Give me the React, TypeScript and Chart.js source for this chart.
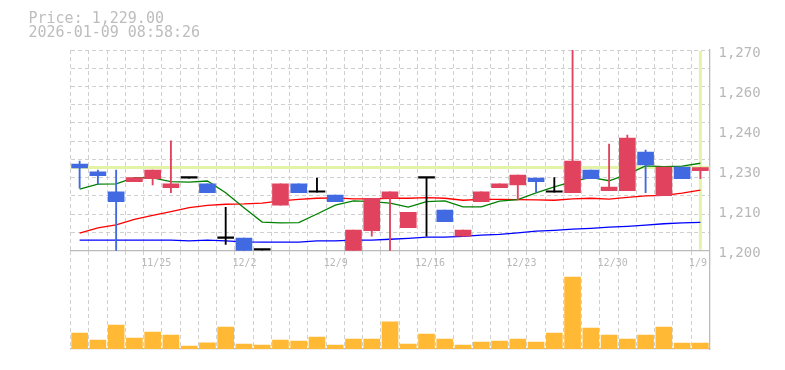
import React, { useEffect, useRef } from "react";
import { Chart, registerables } from "chart.js";
Chart.register(...registerables);

const dates = ["11/18","11/19","11/20","11/21","11/25","11/26","11/27","11/28","12/1","12/2","12/3","12/4","12/5","12/8","12/9","12/10","12/11","12/12","12/15","12/16","12/17","12/18","12/19","12/22","12/23","12/24","12/25","12/26","12/29","12/30","1/5","1/6","1/7","1/8","1/9"];
const shownDates = ["11/25","12/2","12/9","12/16","12/23","12/30","1/9"];

const opens  = [1230.2,1227.5,1220.5,1224.1,1225.1,1222.0,1225.3,1223.3,1204.3,1204.4,1200.2,1215.9,1223.3,1220.4,1219.4,1199.8,1207.0,1218.3,1208.0,1225.3,1214.2,1205.1,1217.1,1222.0,1222.9,1225.3,1220.4,1220.2,1228.1,1220.9,1220.9,1234.4,1219.2,1229.2,1227.9];
const highs  = [1231.3,1228.1,1228.1,1225.5,1228.1,1238.3,1225.3,1223.3,1215.1,1204.4,1200.2,1223.3,1223.3,1225.3,1219.4,1207.2,1218.3,1220.5,1213.4,1225.3,1214.2,1207.2,1220.5,1223.3,1226.4,1225.3,1225.5,1275.0,1228.1,1237.2,1240.3,1235.1,1229.2,1229.2,1229.0];
const lows   = [1221.8,1223.2,1199.0,1224.1,1222.9,1220.2,1225.3,1220.2,1202.2,1200.0,1200.2,1215.9,1220.2,1220.4,1217.1,1199.8,1205.1,1199.0,1208.0,1205.1,1210.1,1205.1,1217.1,1222.0,1217.7,1220.4,1220.4,1220.2,1225.1,1220.9,1220.9,1220.2,1219.2,1225.1,1225.1];
const closes = [1228.9,1226.2,1217.1,1225.5,1228.1,1223.3,1225.3,1220.2,1204.3,1200.0,1200.2,1223.3,1220.2,1220.4,1217.1,1207.2,1218.3,1220.5,1213.4,1225.3,1210.1,1207.2,1220.5,1223.3,1226.4,1224.1,1220.4,1231.3,1225.1,1222.2,1239.3,1229.9,1229.2,1225.1,1229.0];

const ma5  = [1221.5,1223.2,1223.3,1225.5,1225.4,1224.1,1223.9,1224.3,1220.2,1215.0,1210.0,1209.7,1209.8,1212.8,1215.9,1217.4,1217.1,1216.6,1215.2,1217.1,1217.4,1215.3,1215.3,1217.3,1217.8,1220.2,1222.3,1224.1,1225.6,1224.4,1226.6,1229.6,1229.3,1229.5,1230.5];
const ma25 = [1206.1,1208.0,1209.0,1210.9,1212.3,1213.6,1215.0,1215.8,1216.2,1216.3,1216.6,1217.4,1217.9,1218.3,1218.4,1218.1,1218.1,1218.3,1218.3,1218.5,1218.3,1217.6,1217.9,1217.9,1217.8,1217.7,1217.6,1218.1,1218.3,1218.0,1218.6,1219.1,1219.3,1220.1,1221.1];
const ma75 = [1203.7,1203.7,1203.7,1203.7,1203.7,1203.7,1203.4,1203.7,1203.4,1203.1,1203.0,1203.0,1203.0,1203.4,1203.4,1203.7,1203.7,1204.0,1204.3,1204.7,1204.7,1205.0,1205.4,1205.7,1206.2,1206.8,1207.1,1207.5,1207.8,1208.2,1208.5,1208.9,1209.4,1209.7,1209.9];

// volume (thousand shares, estimated)
const volumes = [16.3,9.2,24.5,11.2,17.3,14.3,3.1,6.4,22.4,5.1,4.1,9.2,8.2,12.2,4.1,10.2,10.2,27.6,5.1,15.3,10.2,4.1,7.1,8.2,10.2,7.1,16.3,73.5,21.4,14.3,10.2,14.3,22.4,6.1,6.1];

const priceTickLabels = ["1,200","1,210","1,230","1,240","1,260","1,270"];
const priceMin = 1200;
const priceMax = 1270;
const currentPrice = 1229;
const headerPrice = "Price: 1,229.00";
const headerTime = "2026-01-09 08:58:26";

const MONO = "'DejaVu Sans Mono', 'Liberation Mono', monospace";
const GRID = "#d0d0d0";
const AXIS = "#bbbbbb";
const LABEL = "#b8b8b8";
const UP = "#e1435e";
const DOWN = "#4169e1";
const EVEN = "#000000";
const DASH = [4, 3];

const candleColors = opens.map((o, i) => (closes[i] > o ? UP : closes[i] < o ? DOWN : EVEN));

const refLines = {
  id: "refLines",
  beforeDatasetsDraw(chart: any) {
    const { ctx, chartArea: a, scales } = chart;
    const y = scales.y.getPixelForValue(currentPrice);
    const x = scales.x.getPixelForValue(dates.length - 1);
    ctx.save();
    ctx.strokeStyle = "#e3f4a6";
    ctx.lineWidth = 3;
    ctx.beginPath();
    ctx.moveTo(a.left, y);
    ctx.lineTo(a.right, y);
    ctx.moveTo(x, a.top + 1);
    ctx.lineTo(x, a.bottom - 1);
    ctx.stroke();
    ctx.restore();
  },
};

export default function App() {
  const priceRef = useRef<HTMLCanvasElement>(null);
  const volRef = useRef<HTMLCanvasElement>(null);

  useEffect(() => {
    const pc = new Chart(priceRef.current as HTMLCanvasElement, {
      type: "bar",
      data: {
        labels: dates,
        datasets: [
          {
            type: "bar",
            data: opens.map((o, i) => [o, closes[i]]),
            backgroundColor: candleColors,
            barThickness: 16,
            grouped: false,
            minBarLength: 1.5,
            order: 0,
            yAxisID: "y",
          } as any,
          {
            type: "bar",
            data: lows.map((l, i) => [l, highs[i]]),
            backgroundColor: candleColors,
            barThickness: 1.2,
            grouped: false,
            order: 1,
            yAxisID: "y",
          } as any,
          { type: "line", data: ma5, borderColor: "#008000", borderWidth: 1.3, pointRadius: 0, tension: 0, order: 2, yAxisID: "y" } as any,
          { type: "line", data: ma25, borderColor: "#ff0000", borderWidth: 1.3, pointRadius: 0, tension: 0, order: 3, yAxisID: "y" } as any,
          { type: "line", data: ma75, borderColor: "#0000ff", borderWidth: 1.3, pointRadius: 0, tension: 0, order: 4, yAxisID: "y" } as any,
        ],
      },
      options: {
        animation: false,
        responsive: false,
        maintainAspectRatio: false,
        layout: { padding: { left: 70.5, top: 50, right: 0, bottom: 0 } },
        plugins: { legend: { display: false }, tooltip: { enabled: false } },
        scales: {
          x: {
            type: "category",
            offset: true,
            grid: { offset: true, color: GRID, drawTicks: false },
            border: { display: true, color: AXIS, width: 1.3, dash: DASH },
            ticks: {
              autoSkip: false,
              maxRotation: 0,
              minRotation: 0,
              padding: 7,
              align: "start",
              labelOffset: -11.5,
              color: LABEL,
              font: { family: MONO, size: 10 },
              callback: (_v: any, i: number) => (shownDates.includes(dates[i]) ? dates[i] : ""),
            },
            afterFit: (s: any) => {
              s.height = 19.3;
            },
          } as any,
          y: {
            type: "linear",
            position: "left",
            min: priceMin,
            max: priceMax,
            afterBuildTicks: (s: any) => {
              s.ticks = Array.from({ length: 12 }, (_, k) => ({ value: priceMin + (k * (priceMax - priceMin)) / 11 }));
            },
            ticks: { display: false },
            grid: { color: GRID, drawTicks: false },
            border: { display: false, dash: DASH },
            afterFit: (s: any) => {
              s.width = 0;
            },
          } as any,
          yl: {
            type: "linear",
            position: "right",
            min: 0,
            max: priceTickLabels.length - 1,
            ticks: {
              stepSize: 1,
              padding: 9,
              labelOffset: 3,
              color: LABEL,
              font: { family: MONO, size: 14 },
              callback: (v: any) => priceTickLabels[v] ?? "",
            },
            grid: { display: false, drawTicks: false },
            border: { display: true, color: AXIS, width: 1.3 },
            afterFit: (s: any) => {
              s.width = 75.5;
            },
          } as any,
        },
      },
      plugins: [refLines],
    });

    const vc = new Chart(volRef.current as HTMLCanvasElement, {
      type: "bar",
      data: {
        labels: dates,
        datasets: [{ data: volumes, backgroundColor: "#ffb935", barThickness: 16 }],
      },
      options: {
        animation: false,
        responsive: false,
        maintainAspectRatio: false,
        layout: { padding: { left: 70.5, top: 0, right: 0, bottom: 21 } },
        plugins: { legend: { display: false }, tooltip: { enabled: false } },
        scales: {
          x: {
            type: "category",
            offset: true,
            grid: { offset: true, color: GRID, drawTicks: false },
            border: { display: true, color: AXIS, width: 1.3, dash: DASH },
            ticks: { display: false },
            afterFit: (s: any) => {
              s.height = 0;
            },
          } as any,
          y: {
            type: "linear",
            position: "right",
            min: 0,
            max: 100,
            ticks: { display: false },
            grid: { display: false, drawTicks: false },
            border: { display: true, color: AXIS, width: 1.3 },
            afterFit: (s: any) => {
              s.width = 75.5;
            },
          } as any,
        },
      },
    });

    return () => {
      pc.destroy();
      vc.destroy();
    };
  }, []);

  const textStyle: React.CSSProperties = {
    position: "absolute",
    left: 28.5,
    fontFamily: MONO,
    fontSize: 15,
    lineHeight: "14.5px",
    color: "#bdbdbd",
    whiteSpace: "pre",
    zIndex: 3,
  };

  return (
    <div style={{ position: "fixed", left: 0, top: 0, width: 785, height: 370, background: "#ffffff", overflow: "hidden" }}>
      <div style={{ ...textStyle, top: 10.9 }}>{headerPrice}</div>
      <div style={{ ...textStyle, top: 25.4 }}>{headerTime}</div>
      <canvas ref={volRef} width={785} height={119} style={{ position: "absolute", left: 0, top: 251, width: 785, height: 119, zIndex: 1 }} />
      <canvas ref={priceRef} width={785} height={270} style={{ position: "absolute", left: 0, top: 0, width: 785, height: 270, zIndex: 2 }} />
    </div>
  );
}
